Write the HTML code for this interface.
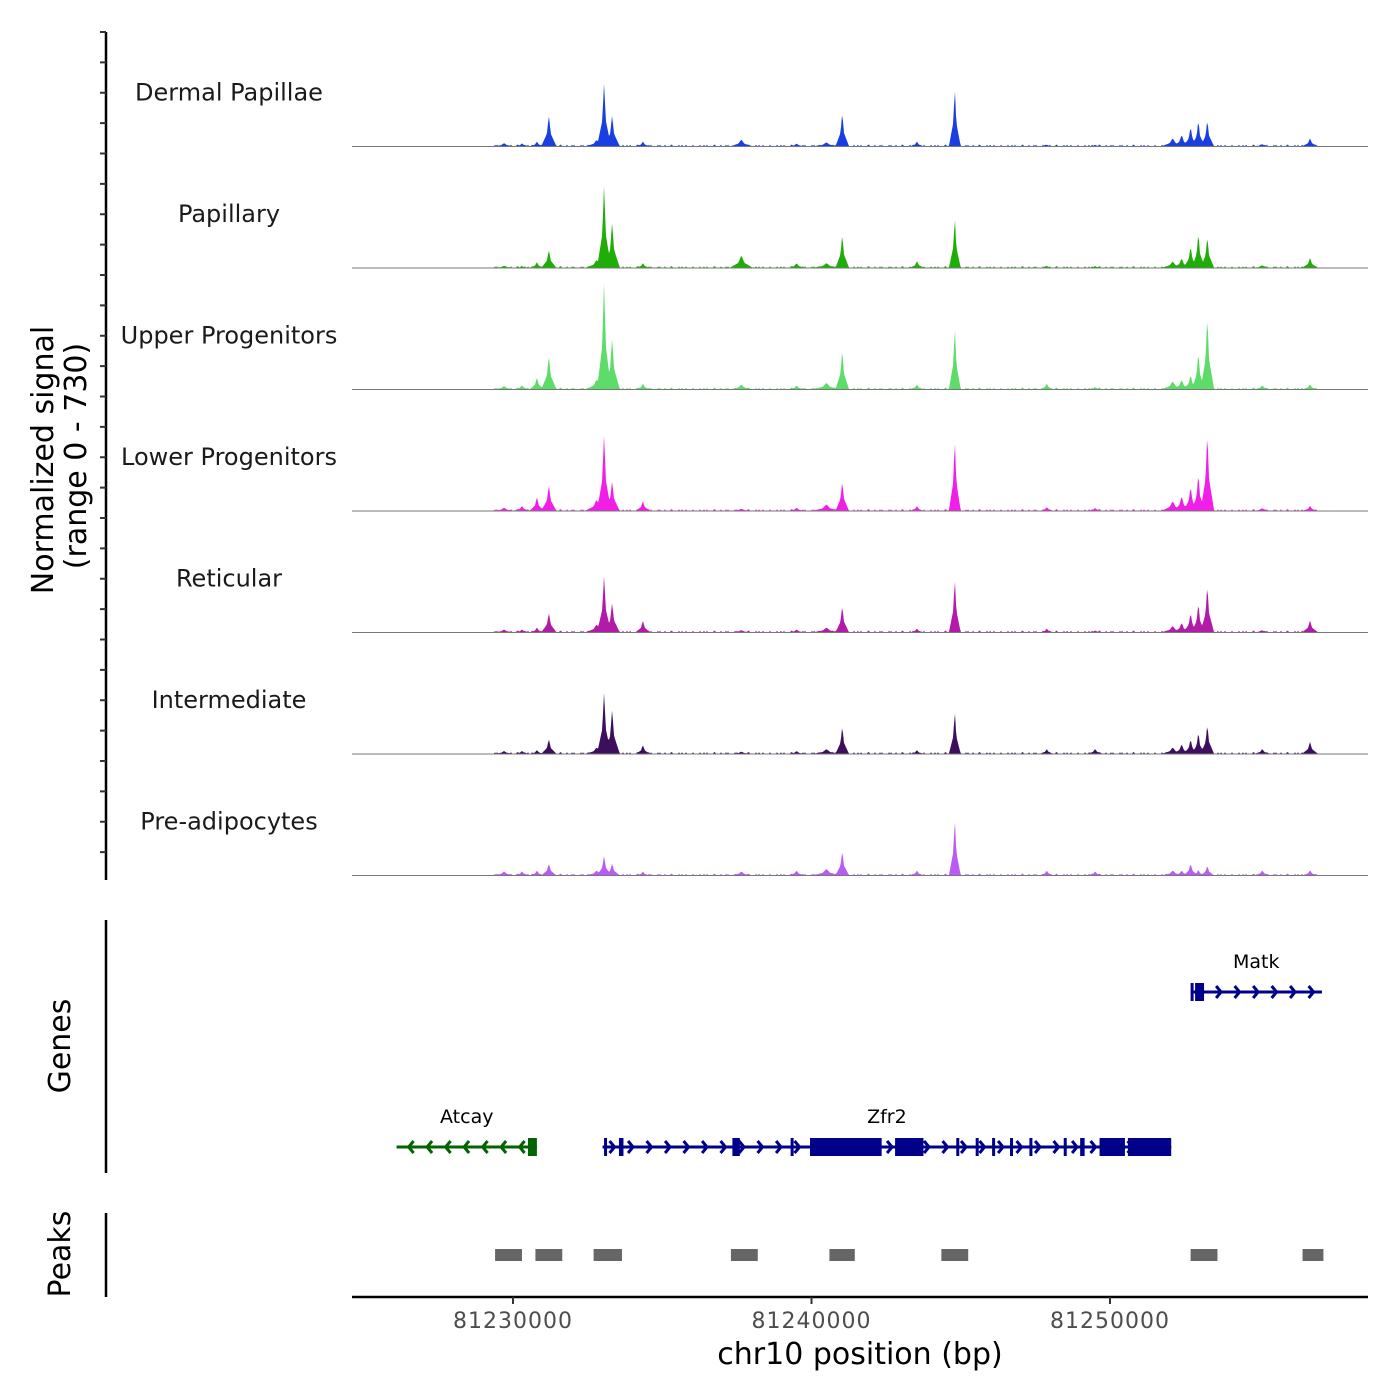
<!DOCTYPE html>
<html><head><meta charset="utf-8">
<style>
html,body{margin:0;padding:0;background:#fff;}
svg{display:block;font-family:"DejaVu Sans","Liberation Sans",sans-serif;}
</style></head>
<body>
<svg id="c" width="1400" height="1400" viewBox="0 0 1400 1400"></svg>
<script>
// ---- data ----
const trackNames = ["Dermal Papillae","Papillary","Upper Progenitors","Lower Progenitors","Reticular","Intermediate","Pre-adipocytes"];
const trackColors = ["#1a3fe0","#1fae08","#5ddc6a","#f01ee6","#b41aa8","#3c0e5e","#b95cf5"];
const peakPos = [81229700,81230300,81230800,81231200,81232800,81233050,81233320,81234350,81237650,81239500,81240500,81241030,81243530,81244800,81247880,81249500,81252100,81252400,81252700,81252960,81253260,81255100,81256700];
const sigDP  = [20,18,30,190,40,385,190,30,42,18,25,205,30,360,12,10,50,72,120,162,162,15,48];
const sigPap = [14,12,36,110,50,500,278,30,78,30,30,205,42,314,14,12,40,60,132,217,193,18,60];
const sigUP  = [20,24,72,205,60,650,314,36,30,24,40,240,30,386,36,14,50,60,90,229,452,24,30];
const sigLP  = [20,30,84,157,70,464,181,60,14,20,40,181,30,440,24,18,60,90,150,229,482,18,30];
const sigRet = [18,18,30,120,50,344,181,72,14,18,30,163,24,332,24,12,40,60,120,181,290,14,72];
const sigInt = [18,18,24,90,40,374,271,54,14,18,30,169,24,265,30,30,40,60,90,133,181,30,72];
const sigPre = [24,24,30,72,30,120,72,24,24,30,40,150,30,350,30,24,30,30,72,36,60,30,30];
const trackSignals = [sigDP,sigPap,sigUP,sigLP,sigRet,sigInt,sigPre];
const peakWidths = [400,300,250,260,400,240,260,250,400,300,500,230,250,200,250,300,400,300,250,220,230,300,280];
const peakRegions = [[81229400,81230300],[81230750,81231650],[81232700,81233650],[81237300,81238200],[81240600,81241450],[81244350,81245250],[81252700,81253600],[81256450,81257150]];
const xTicks = [81230000,81240000,81250000];
const genes = [
 {name:"Atcay",start:81226100,end:81230800,strand:-1,row:1,color:"#006400",exons:[[81230500,81230800]]},
 {name:"Zfr2",start:81233000,end:81252050,strand:1,row:1,color:"#00008b",exons:[[81233050,81233150],[81233550,81233700],[81237350,81237600],[81239300,81239400],[81239950,81242350],[81242800,81243750],[81244850,81244950],[81245500,81245600],[81246050,81246150],[81246650,81246750],[81247300,81247400],[81248450,81248550],[81249000,81249150],[81249650,81250500],[81250600,81252050]]},
 {name:"Matk",start:81252700,end:81257100,strand:1,row:0,color:"#00008b",exons:[[81252700,81252800],[81252850,81253150]]}
];
const maxSignal = 730;

// ---- scales ----
const X0=352,X1=1368, BP0=81224606, BP1=81258643;
const xs = bp => X0 + (bp-BP0)/(BP1-BP0)*(X1-X0);
const trackTop = 25, trackH = 121.5;
const ys = (i,v) => trackTop + (i+1)*trackH - v/maxSignal*trackH;

const svg=document.getElementById('c');
const NS="http://www.w3.org/2000/svg";
function mk(tag,attrs,parent){const e=document.createElementNS(NS,tag);for(const k in attrs)e.setAttribute(k,attrs[k]);(parent||svg).appendChild(e);return e;}

trackNames.forEach((name,i)=>{
  const g=mk('g',{});
  
  
  const base=ys(i,0);
  const sig=trackSignals[i];
  let d='M'+X0+','+base;
  for(let x=X0;x<=1323;x+=1){
    const bp=BP0+(x-X0)/(X1-X0)*(BP1-BP0);
    let v=0;
    peakPos.forEach((p,k)=>{const w=peakWidths[k];const t=Math.abs(bp-p)/w;if(t<1){const s=t<0.25?(1-t*2.4):(0.4*(1-t)/0.75);v=Math.max(v,sig[k]*s);}});
    if(bp>81229300 && bp<81257000 && v<10){v=Math.max(v,(x%7===0||x%11===0)?10:3);}
    d+=' L'+x+','+ys(i,v).toFixed(1);
  }
  d+=' L1323,'+base+' Z';
  const p=mk('path',{d:d,fill:trackColors[i],stroke:'none'},g);
  
  
  const bl=mk('line',{x1:X0,x2:X1,y1:base,y2:base,stroke:'#777','stroke-width':1},g);
  
  
  const t=mk('text',{x:229,y:base-46,'text-anchor':'middle','font-size':24,fill:'#1a1a1a'},g);
  t.textContent=name;
  
  
});

const ya=mk('line',{x1:106,x2:106,y1:32,y2:880,stroke:'#000','stroke-width':2.5});


for(let k=0;k<=28;k++){
  const y=trackTop+7+k*(trackH/4);
  if(y>880)break;
  const tk=mk('line',{x1:100,x2:106,y1:y,y2:y,stroke:'#333','stroke-width':2});
  
  
}
const yt=mk('text',{x:0,y:0,'text-anchor':'middle','font-size':30,fill:'#000',transform:'translate(53,460) rotate(-90)'});
yt.textContent='Normalized signal';


const yt2=mk('text',{x:0,y:0,'text-anchor':'middle','font-size':30,fill:'#000',transform:'translate(86,456) rotate(-90)'});
yt2.textContent='(range 0 - 730)';



const ga=mk('line',{x1:106,x2:106,y1:920,y2:1173,stroke:'#000','stroke-width':2.5});


const gt=mk('text',{x:0,y:0,'text-anchor':'middle','font-size':30,fill:'#000',transform:'translate(70,1046) rotate(-90)'});
gt.textContent='Genes';


const rowY=[992,1147];
genes.forEach(gn=>{
  const g=mk('g',{});
  
  
  const y=rowY[gn.row], a=xs(gn.start), b=xs(gn.end);
  mk('line',{x1:a,x2:b,y1:y,y2:y,stroke:gn.color,'stroke-width':3},g);
  const lim = gn.strand>0 ? b+2 : b-12;
  for(let x=a+12;x<lim;x+=18.5){
    const dx=gn.strand*5;
    mk('polyline',{points:(x-dx)+','+(y-6)+' '+x+','+y+' '+(x-dx)+','+(y+6),fill:'none',stroke:gn.color,'stroke-width':3},g);
  }
  gn.exons.forEach(e=>{
    const ex=mk('rect',{x:xs(e[0]),y:y-9,width:Math.max(3,xs(e[1])-xs(e[0])),height:18,fill:gn.color},g);
    
    
  });
  const lb=mk('text',{x:(a+b)/2,y:y-24,'text-anchor':'middle','font-size':19,fill:'#000'},g);
  lb.textContent=gn.name;
  
  
});

const pa=mk('line',{x1:106,x2:106,y1:1213,y2:1297,stroke:'#000','stroke-width':2.5});


const pt=mk('text',{x:0,y:0,'text-anchor':'middle','font-size':30,fill:'#000',transform:'translate(70,1254) rotate(-90)'});
pt.textContent='Peaks';


peakRegions.forEach(r=>{
  const rc=mk('rect',{x:xs(r[0]),y:1249,width:xs(r[1])-xs(r[0]),height:12,fill:'#666'});
  
  
});

const xa=mk('line',{x1:X0,x2:X1,y1:1297,y2:1297,stroke:'#000','stroke-width':2.5});


xTicks.forEach(v=>{
  const x=xs(v);
  const tk=mk('line',{x1:x,x2:x,y1:1297,y2:1304,stroke:'#333','stroke-width':2});
  
  
  const tl=mk('text',{x:x,y:1328,'text-anchor':'middle','font-size':22,fill:'#4d4d4d','letter-spacing':'1'});
  tl.textContent=String(v);
  
  
});
const xt=mk('text',{x:860,y:1364,'text-anchor':'middle','font-size':30,fill:'#000'});
xt.textContent='chr10 position (bp)';


</script>
</body></html>
